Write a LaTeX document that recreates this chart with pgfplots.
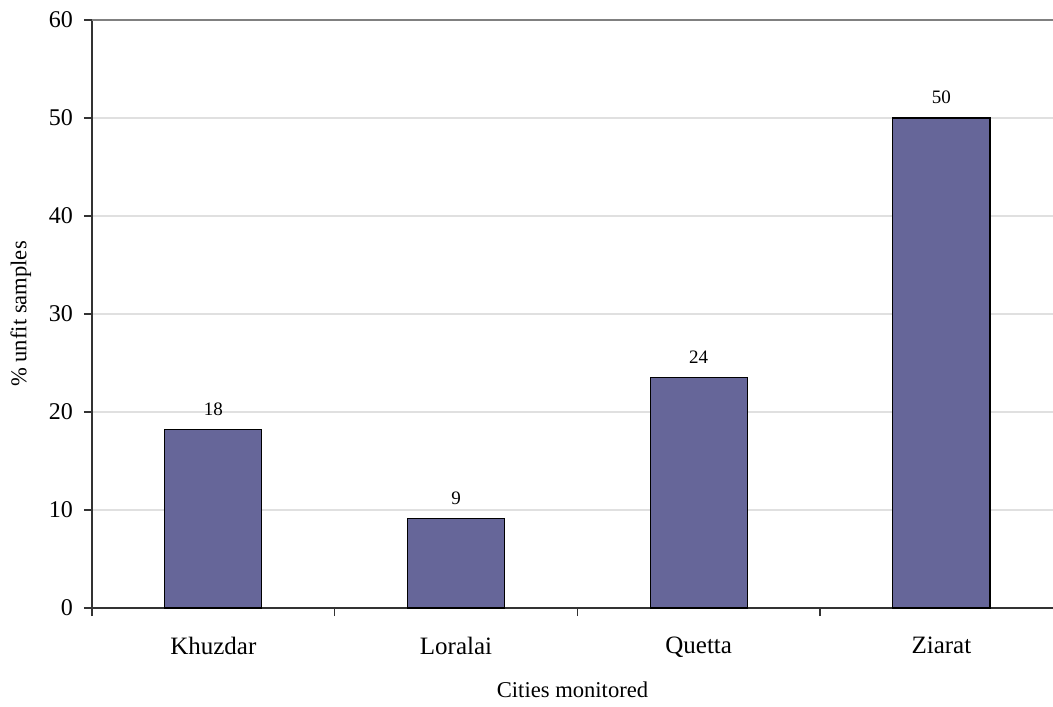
\documentclass[border=0pt]{standalone}
\usepackage{pgfplots}
\pgfplotsset{compat=1.18}
\usepackage{fontspec}
\setmainfont{Liberation Serif}
\definecolor{barcol}{HTML}{666699}
\begin{document}
\begin{tikzpicture}
\begin{axis}[
  scale only axis,
  width=480.5pt, height=294pt,
  xmin=-0.5, xmax=3.46,
  ymin=0, ymax=60,
  ytick={0,10,...,50},
  extra y ticks={60},
  extra y tick style={grid style={draw=black!50, line width=0.7pt}},
  axis x line*=bottom, axis y line*=left,
  axis line style={draw=black!80, line width=0.6pt},
  ymajorgrids,
  grid style={draw=black!12, line width=0.6pt},
  tick align=outside,
  major tick length=4pt,
  tick style={draw=black!80, line width=0.6pt},
  xtick={-0.5,0.5,1.5,2.5,3.5},
  xticklabels={},
  extra x ticks={0,1,2,3},
  extra x tick labels={Khuzdar,Loralai,Quetta,Ziarat},
  extra x tick style={major tick length=0pt, xticklabel style={yshift=-11pt}},
  /pgf/number format/assume math mode=true,
  tick label style={font=\fontsize{12}{14}\selectfont},
  xticklabel style={font=\fontsize{12.5}{14}\selectfont},
  yticklabel style={xshift=-2pt},
  xlabel={Cities monitored},
  ylabel={\% unfit samples},
  label style={font=\fontsize{11.3}{13}\selectfont},
  xlabel style={yshift=-1pt},
  ylabel style={yshift=-6pt},
  nodes near coords,
  point meta=explicit symbolic,
  nodes near coords style={font=\fontsize{9.5}{11}\selectfont, yshift=3.3pt},
]
\addplot[ybar, bar width=0.4, fill=barcol, draw=black, line width=0.6pt]
  coordinates {(0,18.2)[18] (1,9.1)[9] (2,23.5)[24] (3,50)[50]};
\coordinate (sw) at (rel axis cs:0,0);
\coordinate (ne) at (rel axis cs:1,1);
\end{axis}
\pgfresetboundingbox
\path ([shift={(-46pt,-49pt)}]sw) rectangle ([yshift=10pt]ne);
\end{tikzpicture}
\end{document}
